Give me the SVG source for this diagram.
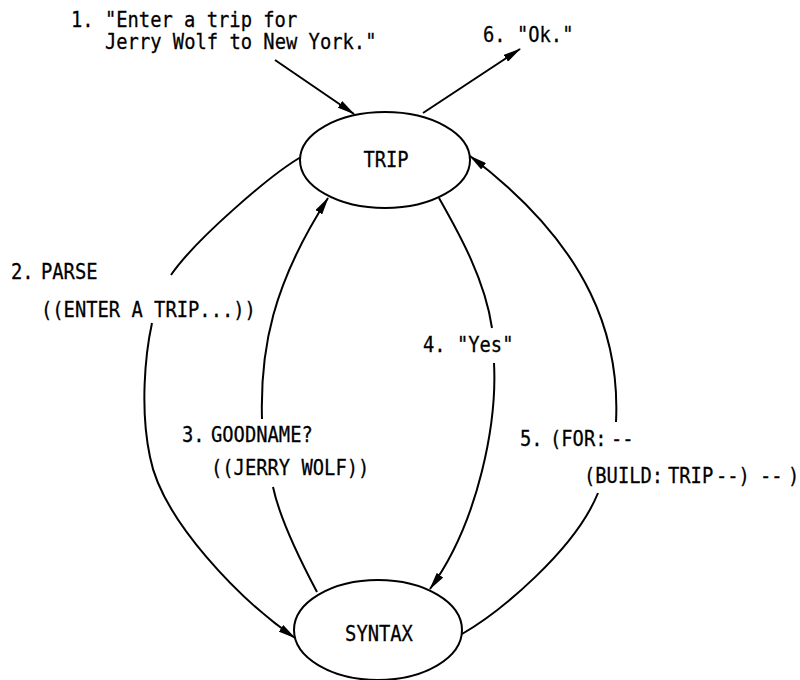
<svg xmlns="http://www.w3.org/2000/svg" width="800" height="680" viewBox="0 0 800 680">
  <style>
    .node { fill: #fff; stroke: #000; stroke-width: 2; }
    .edge { fill: none; stroke: #000; stroke-width: 2; }
    .txt { font-family: "DejaVu Sans Mono", "Liberation Mono", monospace; font-size: 18.8px; fill: #000; stroke: #000; stroke-width: 0.25; }
  </style>
  <defs>
    <marker id="head" viewBox="0 0 18 8" refX="17" refY="4" markerWidth="18" markerHeight="8" markerUnits="userSpaceOnUse" orient="auto">
      <path d="M0,0 L18,4 L0,8 Z" fill="#000"/>
    </marker>
  </defs>
  <rect width="800" height="680" fill="#fff"/>

  <!-- message flow between the two modules -->
  <g id="connectors">
    <!-- 1: user request into TRIP -->
    <path class="edge" d="M275,60 L354,114" marker-end="url(#head)"/>
    <!-- 6: reply out of TRIP -->
    <path class="edge" d="M423,113 L520,49" marker-end="url(#head)"/>
    <!-- 2: PARSE, TRIP to SYNTAX (outer left) -->
    <path class="edge" d="M301,157 C270,175 195,240 171,275"/>
    <path class="edge" d="M152,323 C145,355 140,410 150,457 C162,520 240,600 295,638" marker-end="url(#head)"/>
    <!-- 3: GOODNAME?, SYNTAX to TRIP (inner left) -->
    <path class="edge" d="M317,592 C300,560 280,520 273,487"/>
    <path class="edge" d="M262,419 C260,350 272,285 328,198" marker-end="url(#head)"/>
    <!-- 4: "Yes", TRIP to SYNTAX (inner right) -->
    <path class="edge" d="M439,198 C460,235 485,280 492,328"/>
    <path class="edge" d="M494,363 C497,420 480,520 430,589" marker-end="url(#head)"/>
    <!-- 5: FOR/BUILD, SYNTAX to TRIP (outer right) -->
    <path class="edge" d="M462,634 C500,612 575,550 598,493"/>
    <path class="edge" d="M616,422 C620,340 592,248 470,156" marker-end="url(#head)"/>
  </g>

  <g id="node-trip">
    <ellipse class="node" cx="385" cy="160" rx="85" ry="48"/>
    <text class="txt" transform="translate(386,167) scale(1,1.1)" text-anchor="middle">TRIP</text>
  </g>

  <g id="node-syntax">
    <ellipse class="node" cx="378" cy="630" rx="84" ry="50"/>
    <text class="txt" transform="translate(379,641) scale(1,1.1)" text-anchor="middle">SYNTAX</text>
  </g>

  <!-- lettering is drawn a little taller than the face's native proportions -->
  <g id="labels">
    <text class="txt" transform="translate(71,27) scale(1,1.1)">1. "Enter a trip for</text>
    <text class="txt" transform="translate(105,49) scale(1,1.1)">Jerry Wolf to New York."</text>
    <text class="txt" transform="translate(483,42) scale(1,1.1)">6. "Ok."</text>

    <text class="txt" transform="translate(11,279) scale(1,1.1)"><tspan x="0">2.</tspan><tspan x="30">PARSE</tspan></text>
    <text class="txt" transform="translate(41,317) scale(1,1.1)">((ENTER A TRIP...))</text>

    <text class="txt" transform="translate(182,442) scale(1,1.1)"><tspan x="0">3.</tspan><tspan x="29">GOODNAME?</tspan></text>
    <text class="txt" transform="translate(211,475) scale(1,1.1)">((JERRY WOLF))</text>

    <text class="txt" transform="translate(423,352) scale(1,1.1)">4. "Yes"</text>

    <text class="txt" transform="translate(520,446) scale(1,1.1)"><tspan x="0">5.</tspan><tspan x="30">(FOR:</tspan><tspan x="91">--</tspan></text>
    <text class="txt" transform="translate(584,483) scale(1,1.1)"><tspan x="0">(BUILD:</tspan><tspan x="84">TRIP</tspan><tspan x="132">--)</tspan><tspan x="176">--</tspan><tspan x="204">)</tspan></text>
  </g>
</svg>
